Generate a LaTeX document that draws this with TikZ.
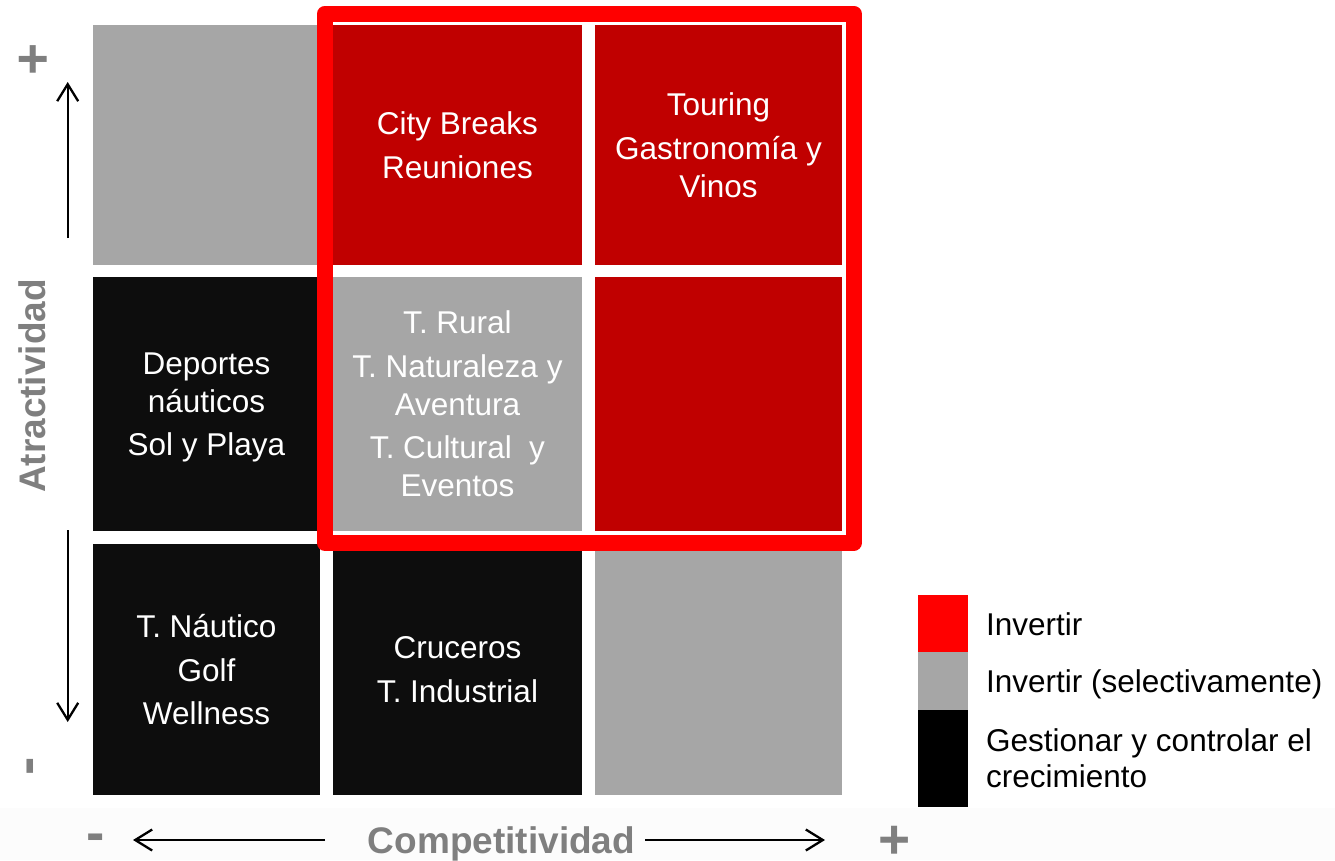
\documentclass[tikz,border=0pt]{standalone}
\usepackage{fontspec}
\setmainfont{Liberation Sans}
\usetikzlibrary{arrows.meta}
\definecolor{cgray}{HTML}{A6A6A6}
\definecolor{cdred}{HTML}{C00000}
\definecolor{cblk}{HTML}{0D0D0D}
\definecolor{lred}{HTML}{FF0000}
\definecolor{axgray}{HTML}{7F7F7F}
\definecolor{strip}{HTML}{FCFCFC}
\begin{document}
\begin{tikzpicture}[x=1pt,y=-1pt,
  cell/.style={inner sep=0pt, outer sep=0pt, align=center, text=white, text depth=0pt,
    font=\fontsize{31.5}{38}\selectfont},
  axlabel/.style={text=axgray, inner sep=0pt, font=\fontsize{37}{40}\selectfont\bfseries},
  sign/.style={text=axgray, inner sep=0pt, font=\fontsize{55}{60}\selectfont\bfseries},
  axarrow/.style={line width=2.3pt, -{Straight Barb[length=17pt,width=21pt]}},
  legbox/.style={inner sep=0pt, outer sep=0pt, minimum width=50pt},
  legtext/.style={inner sep=0pt, align=left, font=\fontsize{31.5}{36}\selectfont}]
\useasboundingbox (0,0) rectangle (1335,860);
\fill[strip] (0,808) rectangle (1335,860);

% row 1
\node[cell, fill=cgray, minimum width=227pt, minimum height=240pt] (c11) at (206.5,145) {};
\node[cell, fill=cdred, minimum width=249pt, minimum height=240pt] (c12) at (457.5,145)
  {City Breaks\\[5.5pt]Reuniones};
\node[cell, fill=cdred, minimum width=247pt, minimum height=240pt] (c13) at (718.5,145)
  {Touring\\[5.5pt]Gastronomía y\\Vinos};
% row 2
\node[cell, fill=cblk, minimum width=227pt, minimum height=254pt] (c21) at (206.5,404)
  {Deportes\\náuticos\\[5.5pt]Sol y Playa};
\node[cell, fill=cgray, minimum width=249pt, minimum height=254pt] (c22) at (457.5,404)
  {T. Rural\\[5.5pt]T. Naturaleza y\\Aventura\\[5.5pt]T. Cultural~ y\\Eventos};
\node[cell, fill=cdred, minimum width=247pt, minimum height=254pt] (c23) at (718.5,404) {};
% row 3
\node[cell, fill=cblk, minimum width=227pt, minimum height=251pt] (c31) at (206.5,669.5)
  {T. Náutico\\[5.5pt]Golf\\[5.5pt]Wellness};
\node[cell, fill=cblk, minimum width=249pt, minimum height=251pt] (c32) at (457.5,669.5)
  {Cruceros\\[5.5pt]T. Industrial};
\node[cell, fill=cgray, minimum width=247pt, minimum height=251pt] (c33) at (718.5,669.5) {};

% selection frame
\node[draw=lred, line width=16pt, line join=round, inner sep=0pt,
  minimum width=528.5pt, minimum height=529.5pt] (sel) at (589.25,278.25) {};

% axes
\node[axlabel, rotate=90, anchor=base] (ya) at (45,386) {Atractividad};
\node[axlabel, anchor=base] (xa) at (501.5,853) {Competitividad};
\node[sign, rotate=90] (yplus) at (35,59.5) {+};
\node[sign, rotate=90] (yminus) at (35.5,766.5) {-};
\node[sign] (xminus) at (95.5,843) {-};
\node[sign] (xplus) at (895,842) {+};

\coordinate (u0) at (67.7,238);
\coordinate (u1) at (67.7,82);
\coordinate (d0) at (67.7,530);
\coordinate (d1) at (67.7,722);
\coordinate (l0) at (325,840);
\coordinate (l1) at (133,840);
\coordinate (r0) at (645,840);
\coordinate (r1) at (825,840);
\draw[axarrow] (u0) -- (u1);
\draw[axarrow] (d0) -- (d1);
\draw[axarrow] (l0) -- (l1);
\draw[axarrow] (r0) -- (r1);

% legend
\node[legbox, fill=lred, minimum height=57pt] (lb1) at (943,623.5) {};
\node[legbox, fill=cgray, minimum height=58pt] (lb2) at (943,681) {};
\node[legbox, fill=black, minimum height=97pt] (lb3) at (943,758.5) {};
\node[legtext, anchor=base west] (lt1) at (986,635) {Invertir};
\node[legtext, anchor=base west] (lt2) at (986,692) {Invertir (selectivamente)};
\node[legtext, anchor=west] (lt3) at (986,758) {Gestionar y controlar el\\crecimiento};
\end{tikzpicture}
\end{document}
